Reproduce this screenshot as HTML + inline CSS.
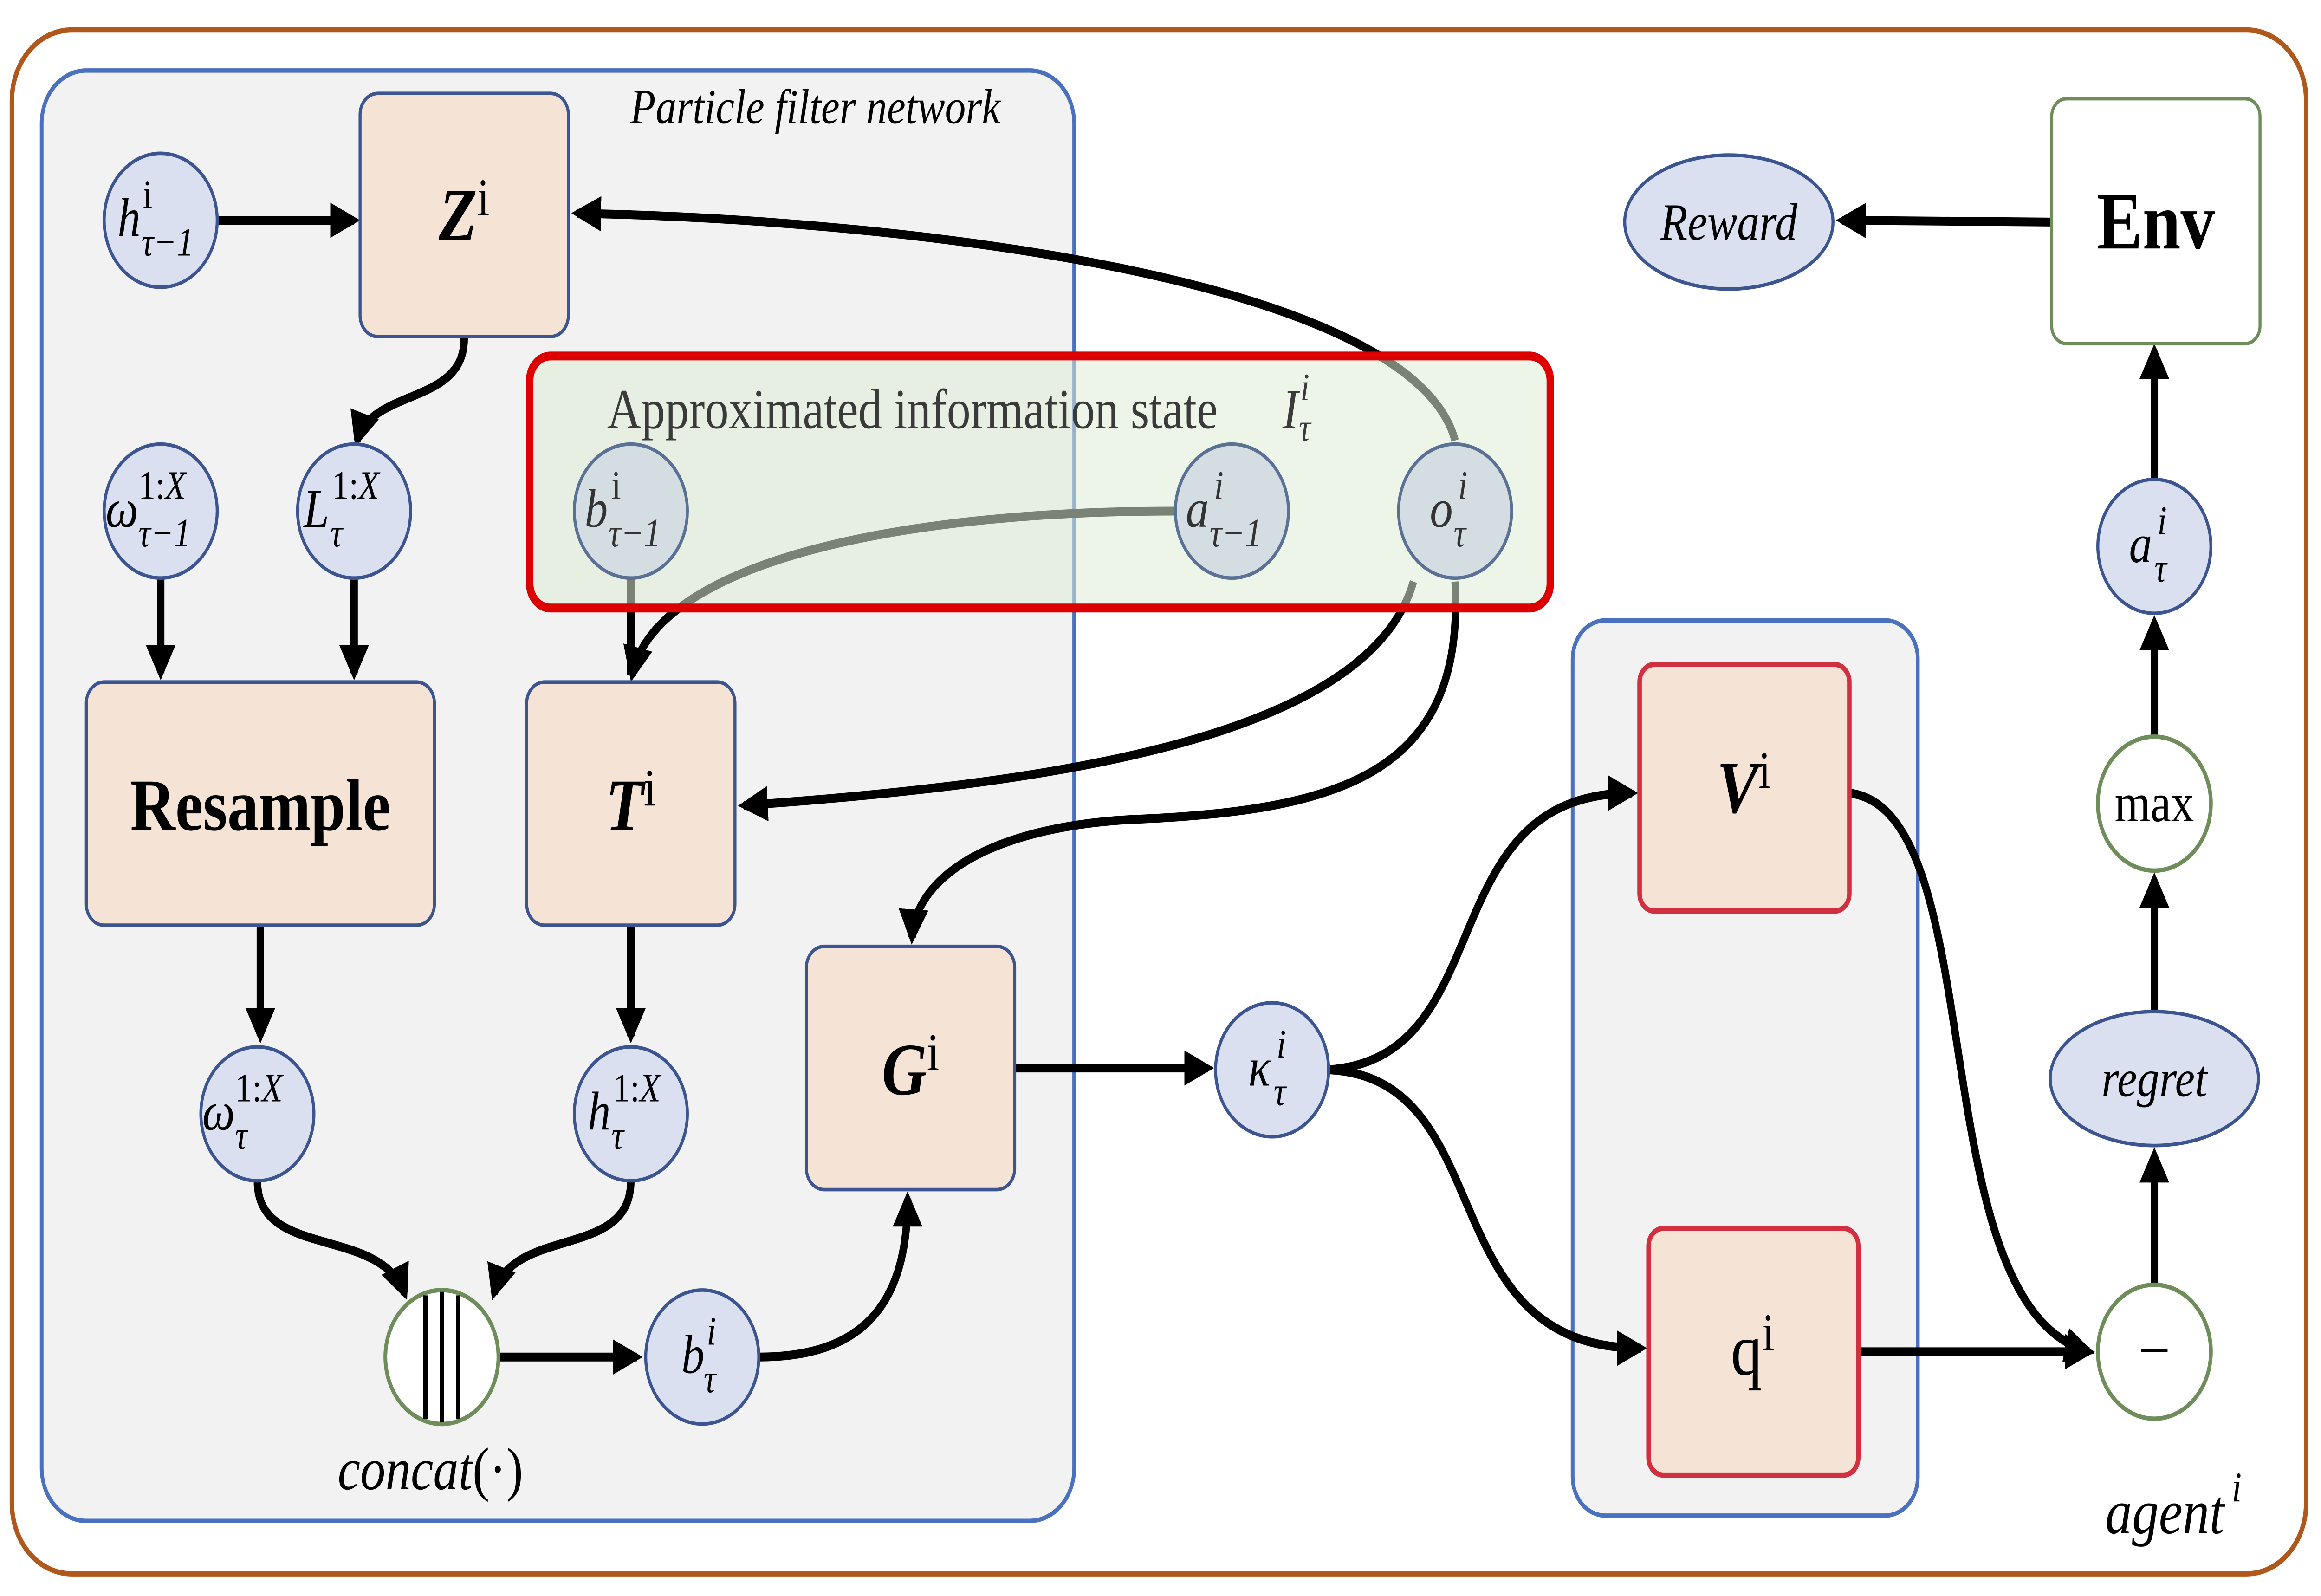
<!DOCTYPE html>
<html><head><meta charset="utf-8"><style>
html,body{margin:0;padding:0;background:#fff;overflow:hidden;width:100vw;height:100vh;}
svg{display:block;width:100vw;height:100vh;}
text{font-family:"Liberation Serif",serif;}
</style></head><body>
<svg viewBox="0 0 1560 905.6" preserveAspectRatio="none" xmlns="http://www.w3.org/2000/svg">
<defs>
<marker id="ar" markerWidth="4" markerHeight="4" refX="3.2" refY="2" orient="auto" markerUnits="strokeWidth">
<path d="M0,0 L4,2 L0,4 z" fill="#000"/>
</marker>
</defs>
<rect width="1560" height="906" fill="#fff"/>
<rect x="8" y="17" width="1542" height="876" rx="40" fill="none" stroke="#b0581c" stroke-width="3"/>
<rect x="28" y="40" width="694" height="823" rx="30" fill="#f2f2f2" stroke="#4a70c0" stroke-width="2.5"/>
<text x="548" y="70" font-size="28" font-style="italic" text-anchor="middle">Particle filter network</text>
<rect x="1057" y="352" width="232" height="508" rx="22" fill="#f2f2f2" stroke="#4a70c0" stroke-width="2.5"/>

<g fill="none" stroke="#000" stroke-width="5">
<path d="M146,125 L238,125" marker-end="url(#ar)"/>
<path d="M312,192 C312,230 250,220 240,250" marker-end="url(#ar)"/>
<path d="M108,328 L108,382" marker-end="url(#ar)"/>
<path d="M238,328 L238,382" marker-end="url(#ar)"/>
<path d="M175,525 L175,588" marker-end="url(#ar)"/>
<path d="M424,525 L424,588" marker-end="url(#ar)"/>
<path d="M173,670 C173,715 255,695 272,734" marker-end="url(#ar)"/>
<path d="M424,670 C424,715 345,695 332,734" marker-end="url(#ar)"/>
<path d="M336,770 L428,770" marker-end="url(#ar)"/>
<path d="M510,770 C580,770 610,740 610,680" marker-end="url(#ar)"/>
<path d="M682,606 L812,606" marker-end="url(#ar)"/>
<path d="M893,607 C1010,600 960,450 1097,450" marker-end="url(#ar)"/>
<path d="M893,607 C1010,612 960,765 1103,765" marker-end="url(#ar)"/>
<path d="M1243,450 C1340,460 1290,740 1404,767" marker-end="url(#ar)"/>
<path d="M1249,767 L1404,767" marker-end="url(#ar)"/>
<path d="M1448,729 L1448,655" marker-end="url(#ar)"/>
<path d="M1448,574 L1448,499" marker-end="url(#ar)"/>
<path d="M1448,418 L1448,353" marker-end="url(#ar)"/>
<path d="M1448,272 L1448,199" marker-end="url(#ar)"/>
<path d="M1379,126 L1238,125" marker-end="url(#ar)"/>
<path d="M978,250 C950,160 620,125 388,121" marker-end="url(#ar)"/>
<path d="M790,290 C600,290 440,320 425,383" marker-end="url(#ar)"/>
<path d="M424,328 L424,383"/>
<path d="M950,330 C920,420 700,445 500,457" marker-end="url(#ar)"/>
<path d="M978,330 C985,440 900,460 760,465 C660,470 615,500 613,532" marker-end="url(#ar)"/>
</g>

<rect x="356" y="202" width="686" height="143" rx="14" fill="#dfecd5" fill-opacity="0.55" stroke="#dd0000" stroke-width="5"/>
<text x="408" y="243" font-size="32" fill="#3a3a3a">Approximated information state</text>
<text x="862" y="243" font-size="32" fill="#3a3a3a" font-style="italic">I</text>
<text x="874" y="227" font-size="22" fill="#3a3a3a" font-style="italic">i</text>
<text x="873" y="250" font-size="22" fill="#3a3a3a" font-style="italic">τ</text>

<g stroke="#3c5590" stroke-width="2" fill="#f5e3d6">
<rect x="242" y="53" width="140" height="138" rx="12"/>
<rect x="58" y="387" width="234" height="138" rx="12"/>
<rect x="354" y="387" width="140" height="138" rx="12"/>
<rect x="542" y="537" width="140" height="138" rx="12"/>
</g>
<g stroke="#d03040" stroke-width="3" fill="#f5e3d6">
<rect x="1102" y="377" width="141" height="140" rx="10"/>
<rect x="1108" y="697" width="141" height="140" rx="10"/>
</g>
<rect x="1379" y="56" width="140" height="139" rx="10" fill="#fff" stroke="#6f8d5a" stroke-width="2"/>

<g font-size="42" font-weight="bold" text-anchor="middle">
<text x="312" y="136"><tspan font-style="italic">Z</tspan><tspan font-weight="normal" font-size="30" dy="-14">i</tspan></text>
<text x="175" y="471">Resample</text>
<text x="424" y="471"><tspan font-style="italic">T</tspan><tspan font-weight="normal" font-size="30" dy="-14">i</tspan></text>
<text x="612" y="621"><tspan font-style="italic">G</tspan><tspan font-weight="normal" font-size="30" dy="-14">i</tspan></text>
<text x="1172" y="461"><tspan font-style="italic">V</tspan><tspan font-weight="normal" font-size="30" dy="-14">i</tspan></text>
<text x="1178" y="780" font-weight="normal">q<tspan font-size="30" dy="-14">i</tspan></text>
<text x="1449" y="141" font-size="46">Env</text>
</g>

<g stroke="#3c5590" stroke-width="2" fill="#dbe0f1">
<circle cx="108" cy="125" r="38"/>
<circle cx="108" cy="290" r="38"/>
<circle cx="238" cy="290" r="38"/>
<circle cx="173" cy="632" r="38"/>
<circle cx="424" cy="632" r="38"/>
<circle cx="472" cy="770" r="38"/>
<circle cx="855" cy="607" r="38"/>
<circle cx="1448" cy="310" r="38"/>
<ellipse cx="1162" cy="126" rx="70" ry="38"/>
<ellipse cx="1448" cy="612" rx="70" ry="38"/>
</g>
<g stroke="#5a7095" stroke-width="2" fill="#d4dde2">
<circle cx="424" cy="290" r="38"/>
<circle cx="828" cy="290" r="38"/>
<circle cx="978" cy="290" r="38"/>
</g>
<g stroke="#6f8d5a" stroke-width="2.5" fill="#fff">
<circle cx="297" cy="770" r="38"/>
<circle cx="1448" cy="456" r="38"/>
<circle cx="1448" cy="767" r="38"/>
</g>
<g stroke="#000" stroke-width="3">
<line x1="286" y1="735" x2="286" y2="805"/><line x1="297" y1="733" x2="297" y2="807"/><line x1="308" y1="735" x2="308" y2="805"/>
</g>

<g font-size="31" font-style="italic">
<text x="79" y="134">h</text><text x="96" y="118" font-size="23" font-style="normal">i</text><text x="95" y="145" font-size="23">τ−1</text>
<text x="71" y="299">ω</text><text x="93" y="283" font-size="23" font-style="normal">1:<tspan font-style="italic">X</tspan></text><text x="93" y="310" font-size="23">τ−1</text>
<text x="204" y="299">L</text><text x="223" y="283" font-size="23" font-style="normal">1:<tspan font-style="italic">X</tspan></text><text x="222" y="310" font-size="23">τ</text>
<g fill="#333">
<text x="393" y="299">b</text><text x="411" y="283" font-size="23" font-style="normal">i</text><text x="409" y="310" font-size="23">τ−1</text>
<text x="797" y="299">a</text><text x="816" y="283" font-size="23">i</text><text x="813" y="310" font-size="23">τ−1</text>
<text x="961" y="299">o</text><text x="980" y="283" font-size="23">i</text><text x="977" y="310" font-size="23">τ</text>
</g>
<text x="136" y="641">ω</text><text x="158" y="625" font-size="23" font-style="normal">1:<tspan font-style="italic">X</tspan></text><text x="158" y="652" font-size="23">τ</text>
<text x="395" y="641">h</text><text x="412" y="625" font-size="23" font-style="normal">1:<tspan font-style="italic">X</tspan></text><text x="411" y="652" font-size="23">τ</text>
<text x="458" y="779">b</text><text x="475" y="763" font-size="23">i</text><text x="473" y="790" font-size="23">τ</text>
<text x="839" y="616">κ</text><text x="858" y="600" font-size="23">i</text><text x="856" y="627" font-size="23">τ</text>
<text x="1431" y="319">a</text><text x="1450" y="303" font-size="23">i</text><text x="1448" y="330" font-size="23">τ</text>
<text x="1162" y="136" text-anchor="middle" font-size="30">Reward</text>
<text x="1448" y="622" text-anchor="middle" font-size="30">regret</text>
<text x="227" y="845" font-size="34">concat<tspan font-style="normal">(·)</tspan></text>
<text x="1415" y="870" font-size="36">agent</text><text x="1500" y="852" font-size="24">i</text>
</g>
<text x="1448" y="466" font-size="31" text-anchor="middle">max</text>
<text x="1448" y="779" font-size="38" text-anchor="middle">−</text>
</svg>
</body></html>
